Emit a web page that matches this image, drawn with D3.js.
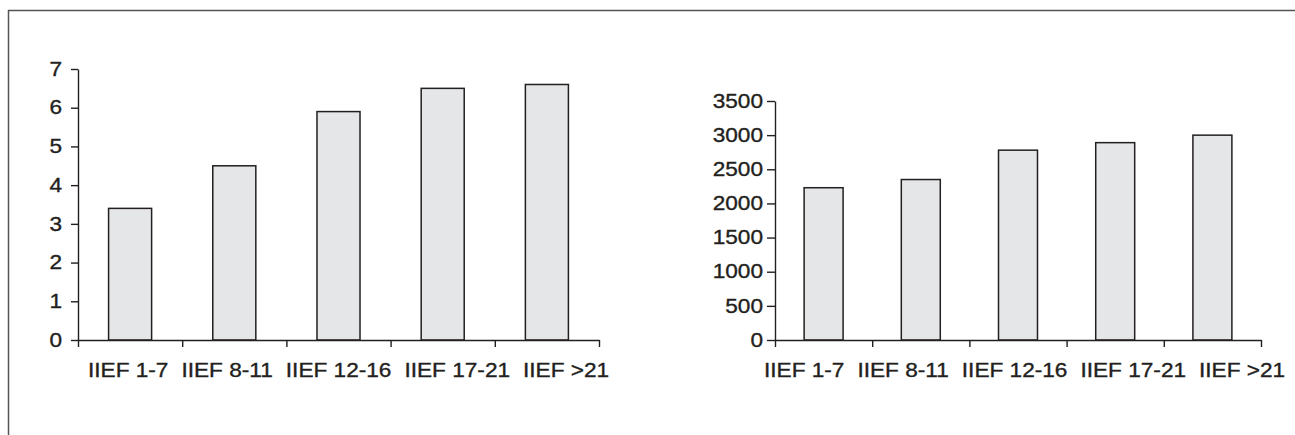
<!DOCTYPE html>
<html>
<head>
<meta charset="utf-8">
<script src="https://cdn.jsdelivr.net/npm/d3@7"></script>
<style>
  html, body { margin: 0; padding: 0; background: #fff; }
  svg text { font-family: "Liberation Sans", Arial, sans-serif; fill: #231f20; stroke: #231f20; stroke-width: 0.35px; }
</style>
</head>
<body>
<svg id="chart" width="1295" height="435"></svg>
<script>
// ---- data ----
const categories = ["IIEF 1-7", "IIEF 8-11", "IIEF 12-16", "IIEF 17-21", "IIEF >21"];
const leftValues = [3.4, 4.5, 5.9, 6.5, 6.6];
const rightValues = [2230, 2350, 2780, 2890, 3000];
const leftTicks = [0, 1, 2, 3, 4, 5, 6, 7];
const rightTicks = [0, 500, 1000, 1500, 2000, 2500, 3000, 3500];

const svg = d3.select("#chart");
const STRETCH = 1.16;
const FONT = "19.5px";

function stretch(sel) {
  sel.each(function () {
    const w = this.getComputedTextLength();
    d3.select(this).attr("textLength", w * STRETCH).attr("lengthAdjust", "spacingAndGlyphs");
  });
}

// frame (top and left border)
svg.append("line").attr("x1", 8).attr("x2", 1295).attr("y1", 10.5).attr("y2", 10.5)
  .attr("stroke", "#555").attr("stroke-width", 1.5);
svg.append("line").attr("x1", 8.5).attr("x2", 8.5).attr("y1", 10).attr("y2", 435)
  .attr("stroke", "#555").attr("stroke-width", 1.5);

function drawPanel(cfg) {
  const g = svg.append("g");
  const x = d3.scaleBand().domain(categories).range([cfg.x0, cfg.x1])
    .paddingInner(cfg.pad).paddingOuter(cfg.pad / 2);
  const y = d3.scaleLinear().domain([0, cfg.max]).range([cfg.yBottom, cfg.yTop]);
  const xi = d3.scaleLinear().domain([0, categories.length]).range([cfg.x0, cfg.x1]);

  // bars
  g.selectAll("rect.bar").data(cfg.values).enter().append("rect")
    .attr("class", "bar")
    .attr("x", (d, i) => x(categories[i]))
    .attr("width", x.bandwidth())
    .attr("y", d => y(d))
    .attr("height", d => y(0) - y(d))
    .attr("fill", "#e5e6e8")
    .attr("stroke", "#231f20")
    .attr("stroke-width", 1.5);

  // y axis
  const ya = g.append("g").attr("transform", `translate(${cfg.x0},0)`)
    .call(d3.axisLeft(y).tickValues(cfg.ticks).tickFormat(d3.format("d"))
      .tickSize(cfg.tickLen).tickSizeOuter(0).tickPadding(cfg.labelPad));
  ya.attr("font-size", null).attr("font-family", null);
  ya.select(".domain").attr("stroke", "#231f20").attr("stroke-width", 1.4);
  ya.selectAll(".tick line").attr("stroke", "#231f20").attr("stroke-width", 1.4);
  const yt = ya.selectAll(".tick text").style("font-size", FONT).attr("fill", "#231f20");
  stretch(yt);

  // x axis (category boundaries)
  const xa = g.append("g").attr("transform", `translate(0,${cfg.yBottom})`)
    .call(d3.axisBottom(xi).tickValues(d3.range(categories.length + 1))
      .tickFormat("").tickSize(7).tickSizeOuter(0));
  xa.select(".domain").attr("stroke", "#231f20").attr("stroke-width", 1.4);
  xa.selectAll(".tick line").attr("stroke", "#231f20").attr("stroke-width", 1.4);

  // category labels: typeset as one row, left to right
  const labels = g.selectAll("text.cat").data(categories).enter().append("text")
    .attr("class", "cat")
    .attr("y", 377)
    .attr("text-anchor", "start")
    .style("font-size", FONT)
    .text(d => d);
  stretch(labels);
  let cursor = cfg.labelStart;
  labels.each(function () {
    const w = +d3.select(this).attr("textLength");
    d3.select(this).attr("x", cursor);
    cursor += w + cfg.labelGap;
  });
}

drawPanel({ x0: 78, x1: 599, yBottom: 340, yTop: 69, max: 7, values: leftValues,
  ticks: leftTicks, pad: 0.587, tickLen: 7, labelPad: 9, labelStart: 88, labelGap: 13 });
drawPanel({ x0: 775, x1: 1261, yBottom: 340, yTop: 101, max: 3500, values: rightValues,
  ticks: rightTicks, pad: 0.599, tickLen: 8, labelPad: 4, labelStart: 764, labelGap: 13 });
</script>
</body>
</html>
